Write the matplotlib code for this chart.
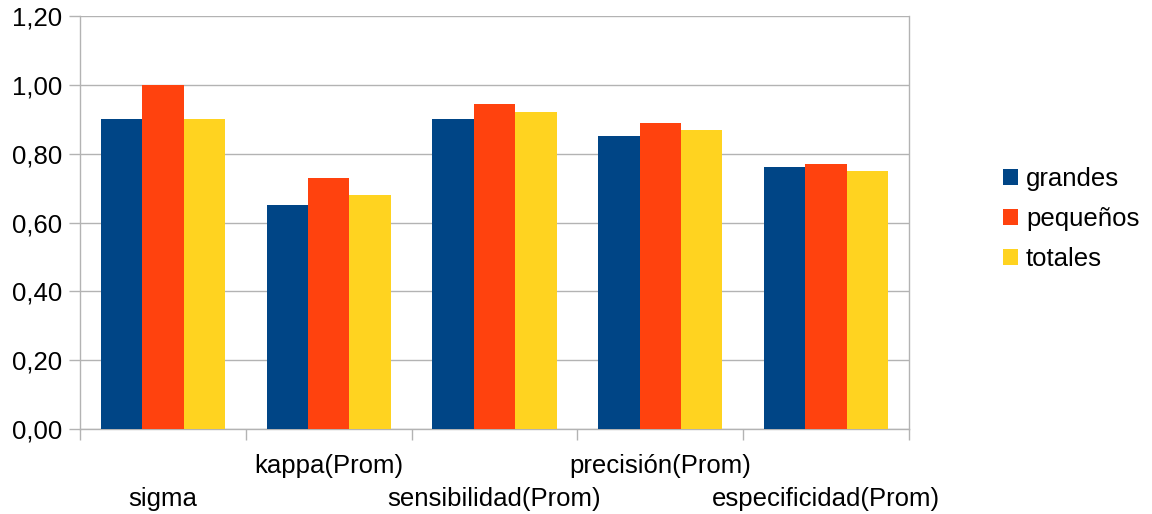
import matplotlib
matplotlib.use("Agg")
import matplotlib.pyplot as plt
import numpy as np

categories = ["sigma", "kappa(Prom)", "sensibilidad(Prom)", "precisión(Prom)", "especificidad(Prom)"]
series_names = ["grandes", "pequeños", "totales"]
grandes = [0.90, 0.65, 0.90, 0.85, 0.76]
pequenos = [1.00, 0.73, 0.945, 0.89, 0.77]
totales = [0.90, 0.68, 0.92, 0.87, 0.75]
y_ticks = [0.0, 0.2, 0.4, 0.6, 0.8, 1.0, 1.2]
y_tick_labels = ["0,00", "0,20", "0,40", "0,60", "0,80", "1,00", "1,20"]

colors = ["#004586", "#ff420e", "#ffd320"]
grid_color = "#b3b3b3"
fs = 18.5

plt.rcParams["font.family"] = ["Liberation Sans", "DejaVu Sans"]
plt.rcParams["font.size"] = fs

fig = plt.figure(figsize=(11.52, 5.14), dpi=100)
ax = fig.add_axes([80 / 1152, 85 / 514, 829 / 1152, 413 / 514])

x = np.arange(len(categories))
width = 0.25
for i, (vals, name, c) in enumerate(zip([grandes, pequenos, totales], series_names, colors)):
    ax.bar(x + (i - 1) * width, vals, width, color=c, label=name, zorder=3)

ax.set_xlim(-0.5, len(categories) - 0.5)
ax.set_ylim(0, 1.2)
ax.set_yticks(y_ticks)
ax.set_yticklabels(y_tick_labels)
ax.yaxis.grid(True, color=grid_color, linewidth=1, zorder=0)

# category labels at group centres, alternating between two rows
ax.set_xticks(x)
ax.set_xticklabels(categories)
for i, t in enumerate(ax.xaxis.get_major_ticks()):
    t.tick1line.set_visible(False)
    t.set_pad(41.5 if i % 2 == 0 else 18)
ax.tick_params(axis="x", which="major", length=0, labelsize=fs, colors="black")

# tick marks at the group boundaries
ax.set_xticks(np.arange(len(categories) + 1) - 0.5, minor=True)
ax.tick_params(axis="x", which="minor", length=8, width=1, color=grid_color, direction="out")
ax.tick_params(axis="y", length=8, width=1, color=grid_color, direction="out", pad=5, labelsize=fs)

for side in ["left", "right", "top", "bottom"]:
    ax.spines[side].set_color(grid_color)
    ax.spines[side].set_linewidth(1)
ax.spines["top"].set_visible(False)

fig.legend(loc="center left", bbox_to_anchor=(1003 / 1152, 1 - 219 / 514), frameon=False,
           handlelength=0.6, handleheight=0.6, handletextpad=0.3, labelspacing=0.62,
           fontsize=fs, borderaxespad=0, borderpad=0)

fig.savefig("out.png", dpi=100)
